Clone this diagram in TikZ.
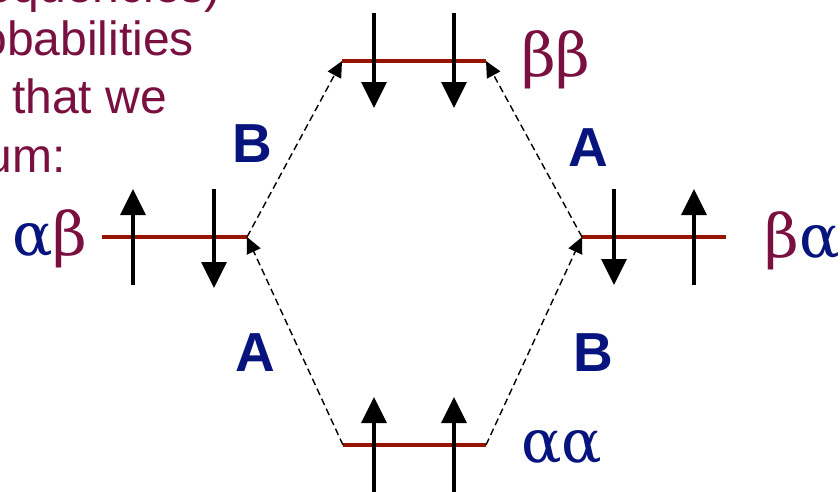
\documentclass[tikz,border=0pt]{standalone}
\usepackage{fontspec}
\setmainfont{Liberation Sans}
\newfontfamily\grk{DejaVu Serif}
\usetikzlibrary{arrows.meta}
\definecolor{navyc}{RGB}{8,20,125}
\definecolor{maroonc}{RGB}{122,16,64}
\definecolor{levelc}{RGB}{150,20,0}
\tikzset{
  level/.style={levelc, line width=4.5pt},
  spin/.style={black, line width=3.3pt, -{Triangle[length=26pt,width=25pt]}},
  trans/.style={black, line width=1.4pt, dash pattern=on 7pt off 4pt, -{Triangle[length=16pt,width=15pt]}},
  note/.style={text=maroonc, font=\fontsize{48}{55}\selectfont, inner sep=0pt, anchor=base east},
  lab/.style={text=navyc, font=\fontsize{55}{60}\selectfont\bfseries, inner sep=0pt, anchor=base},
  grklab/.style={font=\fontsize{60}{70}\selectfont\grk, inner sep=0pt}
}
\begin{document}
\begin{tikzpicture}[x=1pt,y=-1pt]
\useasboundingbox (0,0) rectangle (840,491);
\clip (0,0) rectangle (840,491);
\fill[white] (0,0) rectangle (840,491);
% partial text at top left
\node[note] (t1) at (221,2) {equencies)};
\node[note] (t2) at (194,55) {obabilities};
\node[note] (t3) at (167,113) {that we};
\node[note] (t4) at (66,172) {um:};
% level end points
\coordinate (bbL) at (342,61);  \coordinate (bbR) at (486,61);
\coordinate (abL) at (102,237); \coordinate (abR) at (247,237);
\coordinate (baL) at (582,237); \coordinate (baR) at (726,237);
\coordinate (aaL) at (343,445); \coordinate (aaR) at (486,445);
% levels
\draw[level] (bbL) -- (bbR);
\draw[level] (abL) -- (abR);
\draw[level] (baL) -- (baR);
\draw[level] (aaL) -- (aaR);
% spin arrows
\coordinate (s1a) at (374,13);  \coordinate (s1b) at (374,108);
\coordinate (s2a) at (454,13);  \coordinate (s2b) at (454,108);
\coordinate (s3a) at (133,285); \coordinate (s3b) at (133,189);
\coordinate (s4a) at (214,189); \coordinate (s4b) at (214,288);
\coordinate (s5a) at (614,189); \coordinate (s5b) at (614,285);
\coordinate (s6a) at (694,285); \coordinate (s6b) at (694,189);
\coordinate (s7a) at (374,495); \coordinate (s7b) at (374,397);
\coordinate (s8a) at (454,495); \coordinate (s8b) at (454,397);
\foreach \i in {1,...,8} \draw[spin] (s\i a) -- (s\i b);
% transitions
\draw[trans] (aaL) -- (abR);
\draw[trans] (abR) -- (bbL);
\draw[trans] (aaR) -- (baL);
\draw[trans] (baL) -- (bbR);
% A / B labels
\node[lab] (B1) at (252,162) {B};
\node[lab] (A1) at (588,166) {A};
\node[lab] (A2) at (255,371) {A};
\node[lab] (B2) at (593,371) {B};
% state labels
\node[grklab, anchor=base west] (lab) at (12,255) {\textcolor{navyc}{α}\textcolor{maroonc}{β}};
\node[grklab, anchor=base west] (lbb) at (521,76) {\textcolor{maroonc}{ββ}};
\node[grklab, anchor=base east] (lba) at (840,257) {\textcolor{maroonc}{β}\textcolor{navyc}{α}};
\node[grklab, anchor=base west] (laa) at (521,462) {\textcolor{navyc}{αα}};
\end{tikzpicture}
\end{document}
